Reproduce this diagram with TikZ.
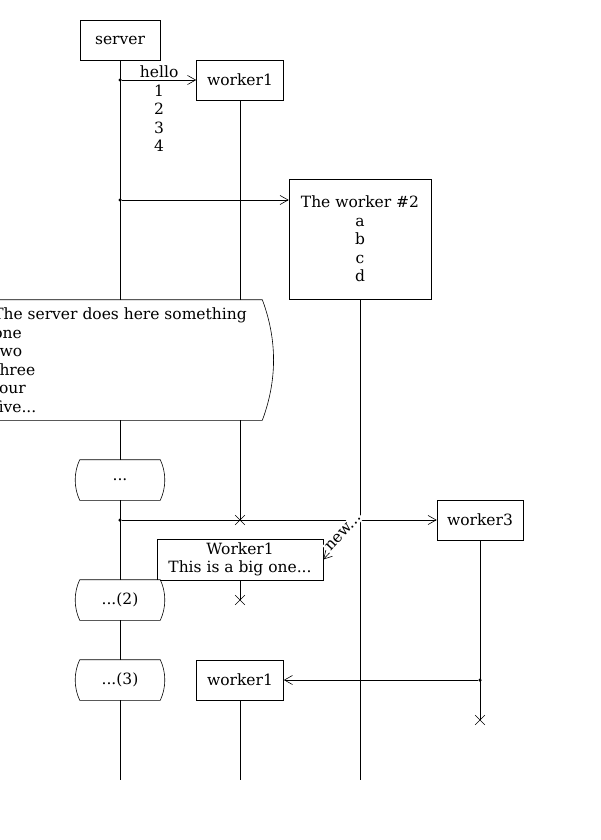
\documentclass[tikz,border=0pt]{standalone}
\usepackage{fontspec}
\setmainfont{DejaVu Serif}
\usetikzlibrary{arrows.meta,shapes.misc,backgrounds}

\tikzset{
	entity/.style={draw, fill=white, minimum height=40pt, inner sep=0pt, align=center},
	statebox/.style={fill=white, minimum width=80pt, minimum height=40pt, inner sep=0pt, align=center},
	msg/.style={-{Straight Barb[length=8pt,width=9pt]}},
	kill/.style={cross out, draw, minimum size=9pt, inner sep=0pt},
	dot/.style={circle, fill, minimum size=3.5pt, inner sep=0pt}
}

% outline with bulging sides round a node: node, bulge, height/3
\newcommand{\bulgeframe}[3]{%
	\draw (#1.north west) -- (#1.north east)
		.. controls ([xshift=#2pt,yshift=-#3pt]#1.north east) and ([xshift=#2pt,yshift=#3pt]#1.south east) .. (#1.south east)
		-- (#1.south west)
		.. controls ([xshift=-#2pt,yshift=#3pt]#1.south west) and ([xshift=-#2pt,yshift=-#3pt]#1.north west) .. (#1.north west);
}

\begin{document}
\begin{tikzpicture}[x=1pt, y=-1pt, line width=0.6pt, font=\fontsize{15.5}{18.5}\selectfont]
	\useasboundingbox (0,0) rectangle (600,840);
	\clip (0,0) rectangle (600,840);
	% Entities
	\node[entity, minimum width=80pt] (server) at (120,40) {server};
	\node[entity, minimum width=87pt] (worker1) at (240,80) {worker1};
	\node[entity, minimum width=142pt, minimum height=120pt] (worker2) at (360,239) {The worker \#2\\a\\b\\c\\d};
	\node[entity, minimum width=86pt] (worker3) at (480,520) {worker3};
	\node[entity, minimum width=166pt, minimum height=41pt] (worker1b) at (240,559.5) {Worker1\\This is a big one...};
	\node[entity, minimum width=87pt] (worker1c) at (240,680) {worker1};
	% States on the server line
	\node[statebox, minimum width=284pt, minimum height=120pt, align=left] (note) at (120,360) {The server does here something\\one\\two\\three\\four\\five...};
	\node[statebox] (state1) at (120,480) {...};
	\node[statebox] (state2) at (120,600) {...(2)};
	\node[statebox] (state3) at (120,680) {...(3)};
	\bulgeframe{note}{15}{40}
	\bulgeframe{state1}{6}{13}
	\bulgeframe{state2}{6}{13}
	\bulgeframe{state3}{6}{13}
	% Ends of the lines
	\node[kill] (kill1) at (240,520) {};
	\node[kill] (kill2) at (240,600) {};
	\node[kill] (kill3) at (480,720) {};
	\coordinate (serverEnd) at (120,780);
	\coordinate (worker2End) at (360,780);
	\coordinate (worker1cEnd) at (240,780);
	% Lifelines
	\begin{scope}[on background layer]
		\draw (server) -- (serverEnd);
		\draw (worker1) -- (kill1.center);
		\draw (worker2) -- (worker2End);
		\draw (worker1b) -- (kill2.center);
		\draw (worker3) -- (kill3.center);
		\draw (worker1c) -- (worker1cEnd);
	\end{scope}
	% Messages
	\node[dot] (d1) at (120,80) {};
	\node[dot] (d2) at (120,200) {};
	\node[dot] (d3) at (120,520) {};
	\node[dot] (d4) at (480,680) {};
	\coordinate (n0) at (360,520);
	\draw[msg] (d1) -- (worker1) node[midway, anchor=north, yshift=14.5pt, inner sep=0pt, align=center] {hello\\1\\2\\3\\4};
	\draw[msg] (d2) -- (worker2.west |- d2);
	\draw[msg] (d3) -- (worker3);
	\draw[msg] (n0) -- (worker1b.east) node[pos=0.38, sloped, anchor=base, fill=white, inner sep=1.5pt] {new...};
	\draw[msg] (d4) -- (worker1c);
\end{tikzpicture}
\end{document}
